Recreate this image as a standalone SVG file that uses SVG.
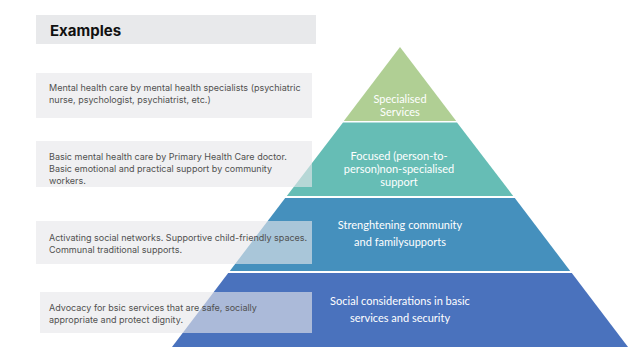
<svg xmlns="http://www.w3.org/2000/svg" width="641" height="353" viewBox="0 0 641 353">
<style>
.ex{font-family:"Inter","Liberation Sans",sans-serif;font-size:9px;fill:#505050}
.pt{font-family:"Lato","Open Sans",sans-serif;font-size:11px;fill:#ffffff;text-anchor:middle}
.box{fill:#e6e7ea;fill-opacity:0.62}
</style>
<rect width="641" height="353" fill="#ffffff"/>
<g id="header">
<rect x="36" y="15" width="280" height="29" fill="#e8e9eb"/>
<text x="50" y="36" font-family="Inter,'Liberation Sans',sans-serif" font-size="15" font-weight="bold" fill="#111111">Examples</text>
</g>
<g id="pyramid">
<g id="tier1"><polygon points="400,47 456.2,121 343.8,121" fill="#b0cf94"/>
<text class="pt" x="400" y="103">Specialised</text>
<text class="pt" x="400" y="115.5">Services</text></g>
<g id="tier2"><polygon points="343,122.5 457,122.5 513.2,196 286.8,196" fill="#66bdb5"/>
<text class="pt" x="399" y="160">Focused (person-to-</text>
<text class="pt" x="399" y="173">person)non-specialised</text>
<text class="pt" x="399" y="186">support</text></g>
<g id="tier3"><polygon points="285.2,198 514.8,198 570.2,271 229.8,271" fill="#4590bd"/>
<text class="pt" x="400" y="228.5">Strenghtening community</text>
<text class="pt" x="400" y="246">and familysupports</text></g>
<g id="tier4"><polygon points="228.2,273 571.8,273 628,347 172,347" fill="#4a72bd"/>
<text class="pt" x="400" y="304.5">Social considerations in basic</text>
<text class="pt" x="400" y="322">services and security</text></g>
</g>
<g id="ex1"><rect class="box" x="36" y="73" width="276" height="45"/>
<text class="ex" x="49" y="91">Mental health care by mental health specialists (psychiatric</text>
<text class="ex" x="49" y="103">nurse, psychologist, psychiatrist, etc.)</text></g>
<g id="ex2"><rect class="box" x="36" y="141" width="276" height="46"/>
<text class="ex" x="49" y="160">Basic mental health care by Primary Health Care doctor.</text>
<text class="ex" x="49" y="172">Basic emotional and practical support by community</text>
<text class="ex" x="49" y="184">workers.</text></g>
<g id="ex3"><rect class="box" x="36" y="221" width="276" height="43"/>
<text class="ex" x="49" y="241">Activating social networks. Supportive child-friendly spaces.</text>
<text class="ex" x="49" y="252.5">Communal traditional supports.</text></g>
<g id="ex4"><rect class="box" x="40" y="292" width="272" height="41"/>
<text class="ex" x="49" y="311">Advocacy for bsic services that are safe, socially</text>
<text class="ex" x="49" y="322.5">appropriate and protect dignity.</text></g>
<g id="connectors"></g>
</svg>
